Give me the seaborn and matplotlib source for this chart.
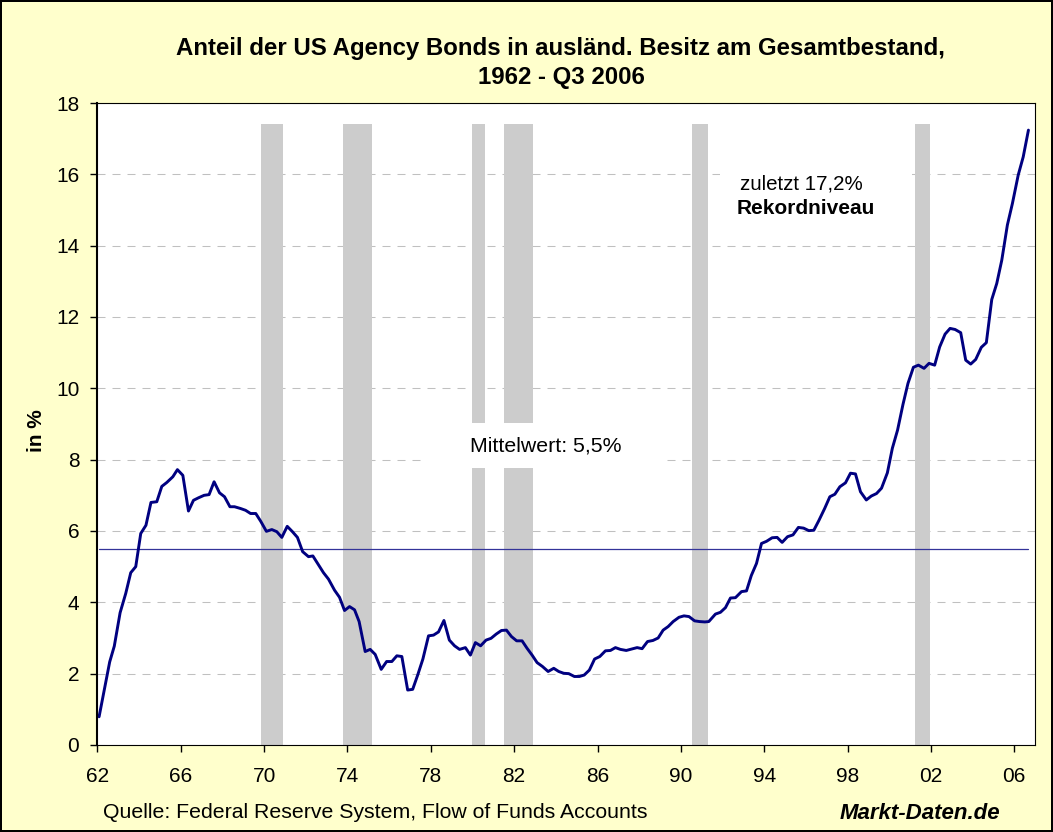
import numpy as np
import pandas as pd
import seaborn as sns
import matplotlib.pyplot as plt
from matplotlib.patches import Rectangle

# Quarterly share of agency bonds held abroad (in %)
years = [
    1962.08, 1962.33, 1962.59, 1962.81, 1963.09, 1963.36, 1963.60, 1963.84,
    1964.08, 1964.33, 1964.57, 1964.85, 1965.09, 1965.33, 1965.62, 1965.84,
    1966.10, 1966.37, 1966.61, 1966.85, 1967.12, 1967.36, 1967.60, 1967.86,
    1968.10, 1968.36, 1968.58, 1968.87, 1969.11, 1969.35, 1969.60, 1969.84,
    1970.11, 1970.37, 1970.61, 1970.85, 1971.11, 1971.36, 1971.60, 1971.85,
    1972.13, 1972.34, 1972.61, 1972.85, 1973.09, 1973.38, 1973.62, 1973.86,
    1974.10, 1974.34, 1974.56, 1974.85, 1975.09, 1975.33, 1975.62, 1975.88,
    1976.13, 1976.37, 1976.61, 1976.89, 1977.13, 1977.37, 1977.62, 1977.89,
    1978.13, 1978.37, 1978.63, 1978.89, 1979.14, 1979.38, 1979.66, 1979.90,
    1980.14, 1980.39, 1980.65, 1980.89, 1981.14, 1981.39, 1981.63, 1981.87,
    1982.12, 1982.38, 1982.62, 1982.86, 1983.10, 1983.36, 1983.63, 1983.90,
    1984.14, 1984.38, 1984.62, 1984.89, 1985.13, 1985.36, 1985.61, 1985.86,
    1986.11, 1986.38, 1986.62, 1986.86, 1987.10, 1987.38, 1987.63, 1987.90,
    1988.14, 1988.40, 1988.66, 1988.91, 1989.15, 1989.39, 1989.63, 1989.91,
    1990.15, 1990.39, 1990.66, 1990.90, 1991.15, 1991.34, 1991.66, 1991.90,
    1992.14, 1992.38, 1992.62, 1992.91, 1993.15, 1993.38, 1993.63, 1993.87,
    1994.11, 1994.38, 1994.62, 1994.86, 1995.12, 1995.38, 1995.64, 1995.89,
    1996.14, 1996.38, 1996.62, 1996.90, 1997.15, 1997.39, 1997.63, 1997.90,
    1998.14, 1998.38, 1998.62, 1998.90, 1999.14, 1999.39, 1999.63, 1999.91,
    2000.15, 2000.40, 2000.66, 2000.90, 2001.16, 2001.40, 2001.67, 2001.91,
    2002.18, 2002.42, 2002.68, 2002.92, 2003.16, 2003.43, 2003.67, 2003.91,
    2004.15, 2004.42, 2004.66, 2004.92, 2005.16, 2005.40, 2005.67, 2005.91,
    2006.19, 2006.43, 2006.68,
]
share = [
    0.79, 1.54, 2.33, 2.77, 3.71, 4.25, 4.83, 5.00,
    5.93, 6.16, 6.80, 6.82, 7.25, 7.36, 7.52, 7.72,
    7.56, 6.56, 6.86, 6.93, 7.00, 7.02, 7.38, 7.07,
    6.96, 6.68, 6.68, 6.63, 6.58, 6.49, 6.49, 6.27,
    5.99, 6.04, 5.98, 5.82, 6.13, 5.98, 5.82, 5.42,
    5.28, 5.30, 5.05, 4.83, 4.65, 4.34, 4.14, 3.77,
    3.88, 3.79, 3.46, 2.62, 2.68, 2.54, 2.12, 2.34,
    2.34, 2.50, 2.48, 1.54, 1.56, 1.96, 2.41, 3.06,
    3.08, 3.17, 3.49, 2.94, 2.78, 2.68, 2.73, 2.52,
    2.87, 2.78, 2.94, 2.99, 3.11, 3.21, 3.22, 3.04,
    2.92, 2.92, 2.71, 2.52, 2.31, 2.20, 2.06, 2.15,
    2.06, 2.01, 2.00, 1.92, 1.92, 1.96, 2.10, 2.41,
    2.48, 2.64, 2.65, 2.73, 2.68, 2.65, 2.69, 2.73,
    2.70, 2.90, 2.93, 3.00, 3.22, 3.32, 3.46, 3.58,
    3.62, 3.60, 3.48, 3.46, 3.45, 3.46, 3.67, 3.72,
    3.85, 4.12, 4.13, 4.30, 4.32, 4.75, 5.09, 5.65,
    5.71, 5.81, 5.82, 5.68, 5.84, 5.89, 6.10, 6.08,
    6.01, 6.02, 6.29, 6.63, 6.96, 7.03, 7.24, 7.35,
    7.62, 7.60, 7.10, 6.87, 6.98, 7.05, 7.20, 7.63,
    8.32, 8.83, 9.55, 10.14, 10.59, 10.65, 10.56, 10.70,
    10.65, 11.16, 11.52, 11.68, 11.65, 11.56, 10.79, 10.68,
    10.81, 11.15, 11.28, 12.49, 12.94, 13.59, 14.58, 15.18,
    15.98, 16.49, 17.24,
]
mean_share = 5.5

# US recessions (grey bands)
recession_start = [1969.85, 1973.80, 1980.00, 1981.50, 1990.52, 2001.25]
recession_end = [1970.90, 1975.20, 1980.58, 1982.92, 1991.28, 2001.97]
band_top = 17.4

tick_years = list(range(1962, 2007, 4))
tick_labels = [f"{y % 100:02d}" for y in tick_years]

sns.set_style("white")
plt.rcParams['font.family'] = ['Liberation Sans', 'DejaVu Sans']
plt.rcParams['text.color'] = 'black'

fig = plt.figure(figsize=(10.53, 8.32), dpi=100, facecolor='#FFFFCC',
                 edgecolor='black', linewidth=1.5)
ax = fig.add_axes([0.0925, 0.1046, 0.8905, 0.7716])
ax.set_facecolor('white')

df = pd.DataFrame({'year': years, 'share': share})

# dashed horizontal grid
ax.set_axisbelow(True)
ax.grid(axis='y', color='#c0c0c0', linewidth=0.75, linestyle=(0, (7.7, 6.7)))

# recession bands
ax.bar(recession_start, band_top,
       width=np.array(recession_end) - np.array(recession_start),
       align='edge', color='#cccccc', linewidth=0, zorder=1)

# mean line
ax.plot(df['year'], [mean_share] * len(df), color='#333399', lw=0.9, zorder=2)

# main series
sns.lineplot(data=df, x='year', y='share', color='#000080', lw=2.1, ax=ax, zorder=3)

# annotation boxes
ax.add_patch(Rectangle((1977.84, 7.77), 11.43, 1.26, facecolor='white',
                       edgecolor='none', zorder=2.5))
ax.text(1983.5, 8.38, 'Mittelwert: 5,5%', ha='center', va='center',
        fontsize=15.3, color='black', zorder=4)
ax.add_patch(Rectangle((1991.9, 14.5), 9.2, 2.4, facecolor='white',
                       edgecolor='none', zorder=2.5))
ax.text(1995.8, 15.72, 'zuletzt 17,2%', ha='center', va='center',
        fontsize=14.8, color='black', zorder=4)
ax.text(1996.0, 15.04, 'Rekordniveau', ha='center', va='center',
        fontsize=15, fontweight='bold', color='black', zorder=4)

ax.set_xlim(1962, 2007)
ax.set_ylim(0, 18)
ax.set_yticks(range(0, 19, 2))
ax.set_xticks(tick_years)
ax.set_xticklabels(tick_labels)
ax.set_xlabel('')
ax.set_ylabel('')
ax.tick_params(axis='both', direction='out', length=5, width=1, labelsize=15,
               color='black', labelcolor='black')
ax.tick_params(axis='x', pad=11)
ax.tick_params(axis='y', pad=8)
ax.tick_params(bottom=True, left=True)
for side, sp in ax.spines.items():
    sp.set_color('black')
    sp.set_linewidth(0.8)
    sp.set_zorder(5)
ax.spines['left'].set_linewidth(1.5)

fig.text(0.035, 0.483, 'in %', rotation=90, ha='center', va='center',
         fontsize=15, fontweight='bold', color='black')
fig.text(0.532, 0.942, 'Anteil der US Agency Bonds in ausländ. Besitz am Gesamtbestand,',
         ha='center', va='center', fontsize=17.3, fontweight='bold', color='black')
fig.text(0.533, 0.907, '1962 - Q3 2006', ha='center', va='center',
         fontsize=17.3, fontweight='bold', color='black')
fig.text(0.098, 0.024, 'Quelle: Federal Reserve System, Flow of Funds Accounts',
         ha='left', va='center', fontsize=15.3, color='black')
fig.text(0.95, 0.022, 'Markt-Daten.de', ha='right', va='center',
         fontsize=16, fontweight='bold', fontstyle='italic', color='black')

fig.savefig('out.png', dpi=100)
